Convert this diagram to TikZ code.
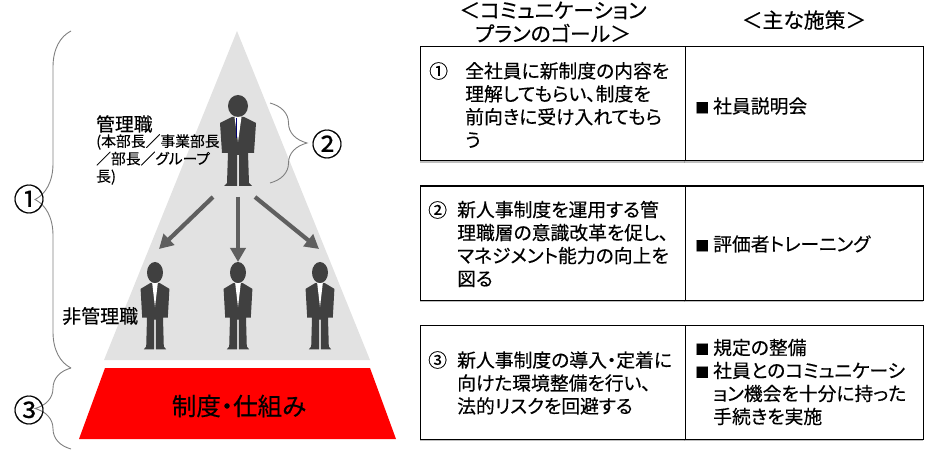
\documentclass[tikz,border=0pt]{standalone}
\usepackage{fontspec}
\setmainfont{Noto Sans CJK JP}[RawFeature={+palt;embolden=0.35}]
\usetikzlibrary{arrows.meta,shadows,decorations.pathreplacing}
\definecolor{pyramidgray}{HTML}{E2E2E2}
\definecolor{suitgray}{HTML}{404040}
\definecolor{arrowgray}{HTML}{5F5F5F}
\definecolor{bracegray}{HTML}{7F7F7F}
\newcommand{\sq}{\makebox[18pt][l]{\fontsize{14}{14}\selectfont ■}}

\tikzset{
  person/.pic={
    \fill[suitgray] (0,11) ellipse (10 and 11);
    \fill[suitgray] (-6,22) -- (-18,28) -- (-16,58) -- (-10,58) -- (-11,88)
      -- (-14,91) -- (-1,91) -- (-1,60) -- (1,60) -- (1,91) -- (14,91)
      -- (11,88) -- (10,58) -- (16,58) -- (18,28) -- (6,22) -- cycle;
    \fill[white] (-3.5,22) -- (3.5,22) -- (0,47) -- cycle;
  },
  goalbox/.style={draw, line width=1.1pt, fill=white, anchor=north west,
    minimum width=265pt, minimum height=114pt, inner sep=0pt,
    drop shadow={shadow xshift=-1pt, shadow yshift=-2pt, fill=black!50, opacity=.5}},
  planbox/.style={goalbox, minimum width=238.5pt},
  body/.style={anchor=west, align=left, inner sep=0pt,
    font=\fontsize{18.8}{23}\selectfont},
  head/.style={align=center, inner sep=0pt, font=\fontsize{20.8}{23.5}\selectfont},
  num/.style={inner sep=0pt, font=\fontsize{31}{31}\selectfont},
  flow/.style={draw=arrowgray, line width=4.2pt, -{Triangle[length=14pt, width=15pt]}},
  bracket/.style={draw=bracegray, line width=.9pt, decorate,
    decoration={brace, amplitude=#1}}
}

\begin{document}
\begin{tikzpicture}[x=1pt, y=-1pt]
  \useasboundingbox (0,0) rectangle (934,454);

  \fill[pyramidgray] (237,31) -- (370,360) -- (104,360) -- cycle;
  \fill[red] (105,368) -- (370,368) -- (396,439) -- (79,439) -- cycle;
  \node[inner sep=0pt, font=\fontsize{24.5}{28}\selectfont] (system) at (239,406) {制度・仕組み};

  \pic at (238,95) {person};
  \draw[blue!45!black, line width=1pt] (236.5,118) -- (236.5,138);
  \pic[xscale=.8, yscale=.96] at (155,262) {person};
  \pic[xscale=.8, yscale=.96] at (238,262) {person};
  \pic[xscale=.8, yscale=.96] at (320,262) {person};

  \coordinate (mgrleft) at (213,197);
  \coordinate (mgrmid) at (238,197);
  \coordinate (mgrright) at (255,197);
  \coordinate (stafftl) at (159,249);
  \coordinate (stafftm) at (238,262);
  \coordinate (stafftr) at (319,249);
  \draw[flow] (mgrleft) -- (stafftl);
  \draw[flow] (mgrmid) -- (stafftm);
  \draw[flow] (mgrright) -- (stafftr);

  \node[anchor=west, inner sep=0pt, font=\fontsize{18.8}{22}\selectfont] (mgrname) at (96,124) {管理職};
  \node[anchor=north west, align=left, inner sep=0pt, font=\fontsize{14.8}{17.5}\selectfont] (mgrnote) at (96,134)
    {(本部長／事業部長\\／部長／グループ\\長)};
  \node[anchor=west, inner sep=0pt, font=\fontsize{19}{22}\selectfont] (staffname) at (62,316) {非管理職};

  \coordinate (braceatop) at (71,31);
  \coordinate (braceabot) at (71,368);
  \coordinate (bracecbot) at (71,449);
  \coordinate (bracebtop) at (270,103);
  \coordinate (bracebbot) at (270,183);
  \draw[bracket=36pt] (braceabot) -- (braceatop);
  \draw[bracket=36pt] (bracecbot) -- (braceabot);
  \draw[bracket=37pt] (bracebtop) -- (bracebbot);
  \node[num] (numa) at (29,199) {①};
  \node[num] (numb) at (327,144) {②};
  \node[num] (numc) at (29,410) {③};

  \node[head] (goalhead) at (553,22) {＜コミュニケーション\\プランのゴール＞};
  \node[head] (planhead) at (804,20) {＜主な施策＞};

  \node[planbox] (planone) at (684.5,46) {};
  \node[goalbox] (goalone) at (420,46) {};
  \node[planbox] (plantwo) at (684.5,185.5) {};
  \node[goalbox] (goaltwo) at (420,185.5) {};
  \node[planbox] (planthree) at (684.5,324.5) {};
  \node[goalbox] (goalthree) at (420,324.5) {};

  \node[body] (goalonenum) at (429,71) {①};
  \node[body] at (465,105) {全社員に新制度の内容を\\理解してもらい、制度を\\前向きに受け入れてもら\\う};
  \node[body] (goaltwonum) at (428,210) {②};
  \node[body] at (457,244) {新人事制度を運用する管\\理職層の意識改革を促し、\\マネジメント能力の向上を\\図る};
  \node[body] (goalthreenum) at (428,360) {③};
  \node[body] at (457,383) {新人事制度の導入・定着に\\向けた環境整備を行い、\\法的リスクを回避する};

  \node[body] at (695,106) {\sq 社員説明会};
  \node[body] at (695,244) {\sq 評価者トレーニング};
  \node[body] at (695,382) {\sq 規定の整備\\\sq 社員とのコミュニケーシ\\\hspace*{18pt}ョン機会を十分に持った\\\hspace*{18pt}手続きを実施};
\end{tikzpicture}
\end{document}
